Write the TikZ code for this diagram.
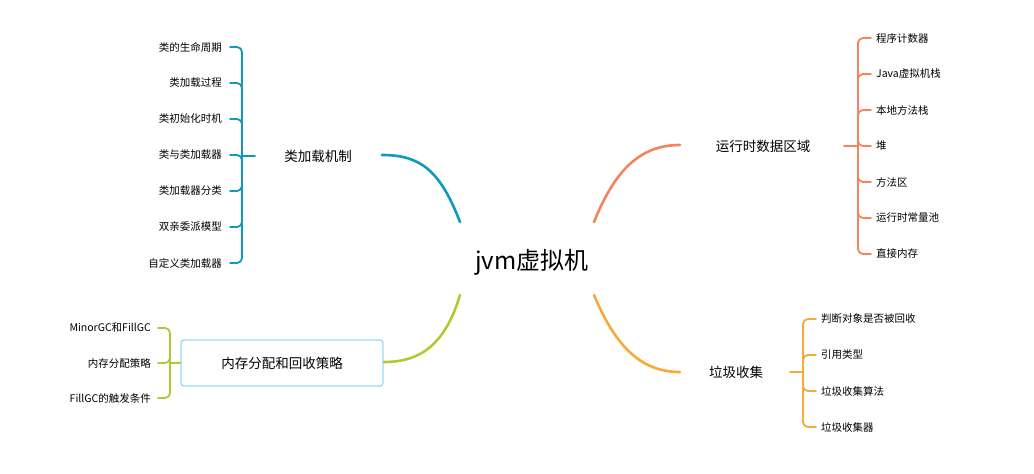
\documentclass[tikz,border=0pt]{standalone}
\usepackage{fontspec}
\setmainfont{Noto Sans CJK SC}
\begin{document}
\begin{tikzpicture}[x=1pt,y=-1pt,
  leaf/.style={font=\fontsize{10.5}{12}\selectfont,inner sep=1pt},
  topic/.style={font=\fontsize{13.5}{15}\selectfont,inner sep=2pt},
  br/.style={line width=1.8pt,line cap=round,rounded corners=5pt},
  arm/.style={line width=2.6pt,line cap=round}]
\useasboundingbox (0,0) rectangle (1034,474);
\definecolor{cA}{HTML}{0E9ABA}
\definecolor{cB}{HTML}{F4845F}
\definecolor{cC}{HTML}{B5C833}
\definecolor{cD}{HTML}{F9A93A}
\definecolor{cBox}{HTML}{9AD8F5}
\node[font=\fontsize{24}{28}\selectfont] (root) at (532,262) {jvm虚拟机};
\coordinate (rA) at (460,222);\coordinate (rB) at (594,222);
\coordinate (rC) at (460,295);\coordinate (rD) at (594,295);
% topics
\node[topic] (tA) at (318,156) {类加载机制};
\node[topic] (tB) at (763,146) {运行时数据区域};
\node[topic] (tD) at (736,372) {垃圾收集};
\node[topic,draw=cBox,line width=1.3pt,rounded corners=3pt,minimum width=202pt,minimum height=46pt] (tC) at (282,363) {内存分配和回收策略};
\coordinate (eA) at (382,155);\coordinate (eB) at (680,145);
\coordinate (eC) at (384,362);\coordinate (eD) at (680,372);
\draw[arm,cA] (rA) .. controls (440,170) and (420,155) .. (eA);
\draw[arm,cB] (rB) .. controls (615,170) and (640,145) .. (eB);
\draw[arm,cC] (rC) .. controls (445,345) and (420,362) .. (eC);
\draw[arm,cD] (rD) .. controls (615,345) and (640,372) .. (eD);
% left-top
\coordinate (sA) at (255,156);
\draw[br,cA] (sA) -- (242,156);
\foreach \t [count=\i] in {类的生命周期,类加载过程,类初始化时机,类与类加载器,类加载器分类,双亲委派模型,自定义类加载器}{
  \node[leaf,anchor=east] (a\i) at (223,{11+36*\i}) {\t};
  \draw[br,cA] (a\i.east)++(7,0) -- (242,{11+36*\i}) -- (242,156);
}
% right-top
\draw[br,cB] (844,146) -- (858,146);
\foreach \t [count=\i] in {程序计数器,Java虚拟机栈,本地方法栈,堆,方法区,运行时常量池,直接内存}{
  \node[leaf,anchor=west] (b\i) at (875,{2+36*\i}) {\t};
  \draw[br,cB] (b\i.west)++(-4,0) -- (858,{2+36*\i}) -- (858,146);
}
% bottom-right
\draw[br,cD] (790,372) -- (803,372);
\foreach \t [count=\i] in {判断对象是否被回收,引用类型,垃圾收集算法,垃圾收集器}{
  \node[leaf,anchor=west] (d\i) at (820,{283+36*\i}) {\t};
  \draw[br,cD] (d\i.west)++(-4,0) -- (803,{283+36*\i}) -- (803,372);
}
% bottom-left
\draw[br,cC] (tC.west) -- (170,363);
\foreach \t/\y [count=\i] in {MinorGC和FillGC/328,内存分配策略/363,FillGC的触发条件/398}{
  \node[leaf,anchor=east] (c\i) at (152,\y) {\t};
  \draw[br,cC] (c\i.east)++(6,0) -- (170,\y) -- (170,363);
}
\end{tikzpicture}
\end{document}
